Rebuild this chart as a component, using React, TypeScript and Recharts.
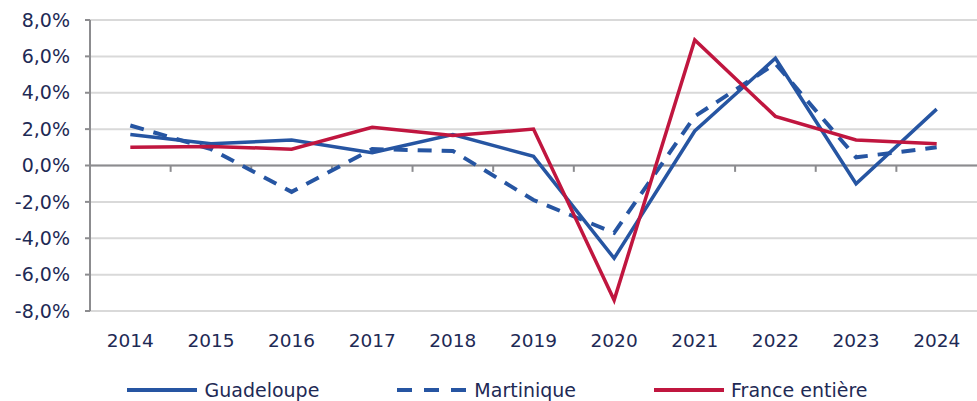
import React from "react";
import {
  LineChart,
  Line,
  XAxis,
  YAxis,
  CartesianGrid,
  Legend,
  ReferenceLine,
} from "recharts";

// Growth rates (%)
const years = ["2014", "2015", "2016", "2017", "2018", "2019", "2020", "2021", "2022", "2023", "2024"];
const guadeloupe = [1.7, 1.2, 1.4, 0.7, 1.7, 0.5, -5.1, 1.9, 5.9, -1.0, 3.1];
const martinique = [2.2, 0.9, -1.45, 0.9, 0.8, -1.9, -3.7, 2.7, 5.6, 0.45, 1.0];
const france = [1.0, 1.05, 0.9, 2.1, 1.65, 2.0, -7.4, 6.9, 2.7, 1.4, 1.2];
const yTicks = [-8, -6, -4, -2, 0, 2, 4, 6, 8];

const BLUE = "#2655a2";
const RED = "#c0163f";
const TEXT = "#1e2a55";
const AXIS = "#8c8c8f";
const FONT = "'DejaVu Sans', Verdana, sans-serif";

const data = years.map((year, i) => ({
  x: i + 0.5,
  year,
  Guadeloupe: guadeloupe[i],
  Martinique: martinique[i],
  France: france[i],
}));

const xTicks = data.map((d) => d.x);
// small tick marks on the 0% line, between the categories
const boundaries = years.slice(1).map((_, i) => i + 1);

const legendItems = [
  { label: "Guadeloupe", color: BLUE, dash: undefined as string | undefined },
  { label: "Martinique", color: BLUE, dash: "15 12" },
  { label: "France entière", color: RED, dash: undefined as string | undefined },
];

const LegendContent = () => (
  <div
    style={{
      display: "flex",
      justifyContent: "center",
      gap: 78,
      height: 22,
      alignItems: "center",
      fontFamily: FONT,
      fontSize: 19,
      color: TEXT,
      paddingLeft: 18,
    }}
  >
    {legendItems.map((item) => (
      <div key={item.label} style={{ display: "flex", alignItems: "center" }}>
        <svg width={70} height={10} style={{ marginRight: 7 }}>
          <line
            x1={0}
            y1={5}
            x2={70}
            y2={5}
            stroke={item.color}
            strokeWidth={4}
            strokeDasharray={item.dash}
          />
        </svg>
        <span>{item.label}</span>
      </div>
    ))}
  </div>
);

export default function App() {
  return (
    <div style={{ position: "absolute", left: 0, top: 0, background: "#fff" }}>
      <LineChart
        width={977}
        height={401}
        data={data}
        margin={{ top: 20, right: 0, left: 0, bottom: 0 }}
      >
        <CartesianGrid vertical={false} stroke="#d9d9d9" strokeWidth={2} />
        <XAxis
          dataKey="x"
          type="number"
          domain={[0, 11]}
          ticks={xTicks}
          tickFormatter={(v: number) => years[Math.round(v - 0.5)]}
          axisLine={false}
          tickLine={false}
          tickSize={0}
          tickMargin={23}
          height={68}
          tick={{ fill: TEXT, fontSize: 18.5, fontFamily: FONT }}
        />
        <YAxis
          domain={[-8, 8]}
          ticks={yTicks}
          width={90}
          interval={0}
          tickFormatter={(v: number) => v.toFixed(1).replace(".", ",") + "%"}
          axisLine={{ stroke: AXIS, strokeWidth: 2 }}
          tickLine={{ stroke: AXIS, strokeWidth: 2 }}
          tickSize={5}
          tickMargin={15}
          tick={{ fill: TEXT, fontSize: 19, fontFamily: FONT }}
        />
        <ReferenceLine y={0} stroke={AXIS} strokeWidth={2} />
        {boundaries.map((b) => (
          <ReferenceLine
            key={b}
            segment={[
              { x: b, y: 0 },
              { x: b, y: -0.35 },
            ]}
            stroke={AXIS}
            strokeWidth={2}
          />
        ))}
        <Legend verticalAlign="bottom" content={<LegendContent />} />
        <Line
          dataKey="Guadeloupe"
          stroke={BLUE}
          strokeWidth={3.5}
          dot={false}
          type="linear"
          isAnimationActive={false}
        />
        <Line
          dataKey="Martinique"
          stroke={BLUE}
          strokeWidth={4}
          strokeDasharray="14 10"
          dot={false}
          type="linear"
          isAnimationActive={false}
        />
        <Line
          dataKey="France"
          stroke={RED}
          strokeWidth={3.5}
          dot={false}
          type="linear"
          isAnimationActive={false}
        />
      </LineChart>
    </div>
  );
}
